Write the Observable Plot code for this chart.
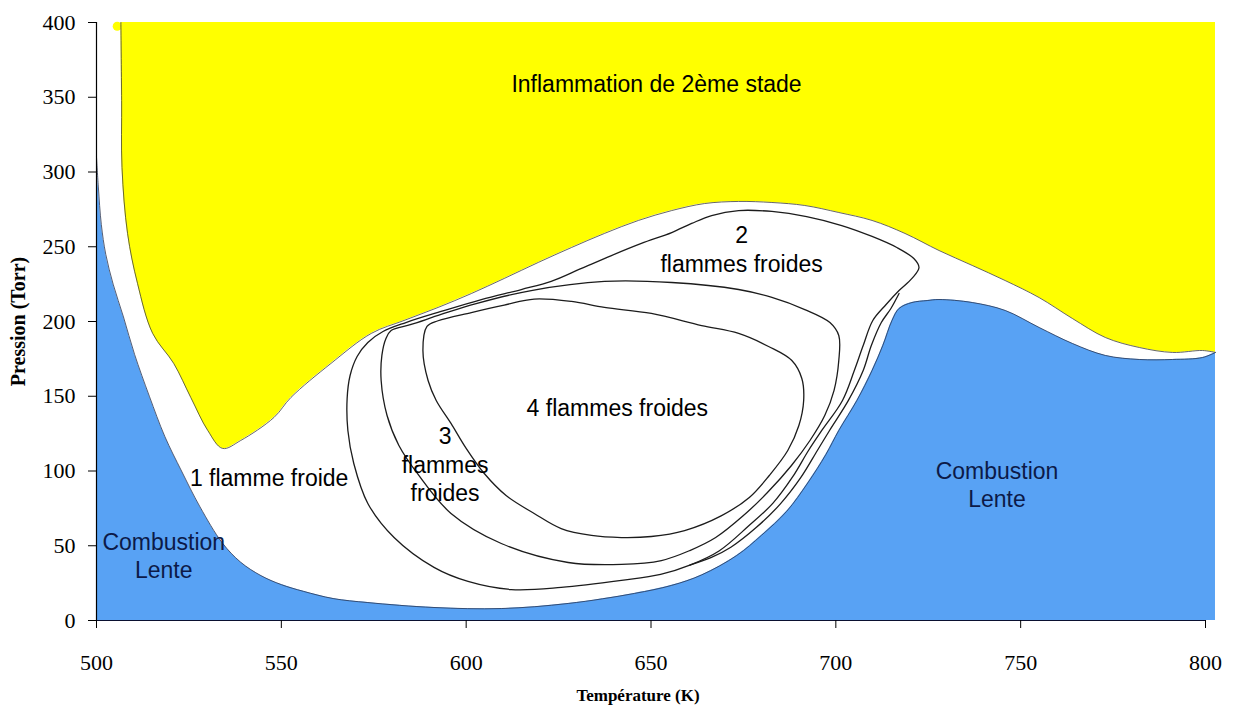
<!DOCTYPE html>
<html>
<head>
<meta charset="utf-8">
<script src="https://cdn.jsdelivr.net/npm/d3@7"></script>
<script src="https://cdn.jsdelivr.net/npm/@observablehq/plot@0.6"></script>
<style>
  html, body { margin: 0; padding: 0; background: #ffffff; }
  svg { display: block; }
</style>
</head>
<body>
<div id="chart"></div>
<script>
// ---- Data (Température K, Pression Torr) ----
// Lower limit of the second-stage ignition region (yellow)
const ignitionBoundary = [
  [506.6,400],[506.8,347.8],[506.9,303.0],[508.4,258.9],[511.1,225.4],[515.2,192.0],[520.9,171.9],
  [525.5,149.2],[530.1,127.1],[534.1,115.1],[539.0,120.4],[548.0,135.8],[552.6,149.2],[563.4,171.9],
  [574.3,192.0],[583.2,200.7],[592.4,209.4],[601.4,218.7],[610.3,228.8],[619.5,239.5],[628.5,249.5],
  [637.4,258.9],[646.6,267.6],[655.6,274.2],[664.5,278.9],[673.7,280.3],[682.7,279.6],[691.6,277.6],
  [700.8,272.9],[709.8,267.6],[718.7,258.9],[727.9,247.5],[736.9,237.5],[745.8,227.4],[755.0,216.0],
  [764.0,202.0],[772.9,189.3],[782.1,182.6],[791.1,179.3],[799.2,180.6],[802.7,179.3]
];
// Upper limit of the slow combustion region (blue)
const slowCombustionBoundary = [
  [500,310],[500.5,290],[501.3,265],[502.5,245],[504.5,225],[507.3,203],[510.3,178],[514.3,150],
  [518.5,123],[523.0,100],[528.0,76],[534.0,52],[539.0,39],[544.5,30],[550.0,24],[556.0,19.5],
  [564.0,14.7],[573.4,12.0],[591.3,8.7],[609.5,8.0],[627.6,11.4],[645.5,18.1],[655.6,23.5],
  [663.7,30.5],[673.2,43.5],[679.9,57.0],[686.7,73.0],[692.4,92.0],[697.3,111.0],[700.8,127.1],
  [705.7,147.2],[709.8,167.2],[712.7,183.9],[715.2,200.7],[717.1,208.7],[720.6,212.7],[724.7,214.0],
  [727.9,214.7],[736.9,212.7],[745.8,207.4],[755.0,196.0],[764.0,185.3],[772.9,177.3],[782.1,174.6],
  [791.1,174.6],[799.2,175.9],[802.7,179.3]
];
// Cold-flame limits
const oneFlameLimit = [
  [567.8,148.5],[568.6,163.9],[570.5,176.6],[573.4,186.0],[577.5,193.3],[583.7,199.3],[593.2,206.7],
  [604.1,214.7],[614.9,221.4],[623.0,226.8],[631.2,235.5],[639.3,244.1],[647.4,252.2],[655.6,259.5],
  [661.0,265.6],[666.4,270.9],[673.7,274.2],[682.7,273.6],[692.1,270.2],[701.6,264.2],[709.8,256.9],
  [716.5,249.5],[721.1,242.1],[722.5,236.1],[720.6,228.8],[717.1,220.7],[713.6,211.4],[710.0,200.7],
  [707.4,183.9],[705.0,167.2],[701.8,147.2],[696.2,127.1],[692.6,113.7],[688.3,96.0],[683.0,78.5],
  [676.3,63.0],[668.4,46.5],[660.5,37.0],[652.6,30.8],[642.0,26.8],[625.7,22.1],[612.2,20.7],
  [600.5,26.1],[591.3,35.5],[580.5,55.5],[573.4,78.3],[569.6,105.0],[568.0,127.1]
];
const twoFlameBranch = [
  [717.1,218.7],[714.9,208.7],[712.3,199.3],[709.6,183.9],[707.4,167.2],[703.4,147.2],[698.3,127.1],
  [695.0,113.7],[690.5,95.5],[685.0,78.0],[678.6,62.5],[671.6,49.0],[666.2,42.0],[660.5,37.0]
];
const threeFlameLimit = [
  [579.7,194.0],[585.1,198.0],[593.2,204.7],[602.7,212.0],[617.6,220.7],[637.4,226.8],[655.6,226.1],
  [673.7,221.4],[682.7,216.1],[691.6,208.0],[698.4,199.3],[700.8,190.6],[700.8,173.9],[699.5,153.8],
  [697.0,137.1],[693.0,120.4],[688.0,103.7],[681.5,85.6],[675.0,70.2],[667.5,55.5],[660.5,46.8],
  [652.8,40.1],[642.0,37.5],[627.6,38.8],[609.5,51.5],[595.9,71.6],[587.0,97.7],[581.8,117.1],
  [578.6,137.1],[577.0,160.5],[577.2,177.3],[578.3,188.6]
];
const fourFlameLimit = [
  [618.4,215.0],[628.5,213.4],[637.4,209.4],[650.1,205.4],[663.7,197.3],[673.7,192.0],[681.8,183.3],
  [688.1,173.9],[690.8,161.9],[691.3,147.2],[690.0,130.4],[687.0,113.7],[682.0,97.0],[676.6,82.3],
  [669.1,70.2],[659.1,60.2],[650.1,56.2],[642.0,55.5],[633.9,56.9],[625.7,61.5],[618.4,71.6],
  [610.8,83.6],[604.9,98.3],[600.0,115.1],[595.9,131.8],[591.9,147.2],[589.7,160.5],[588.3,180.6],
  [589.4,196.7],[592.4,200.5],[601.4,206.0],[610.3,211.0]
];
const yellowSpot = [[505.6,397.5]];

const xTicks = [500, 550, 600, 650, 700, 750, 800];
const yTicks = [0, 50, 100, 150, 200, 250, 300, 350, 400];

const regionLabels = ["Inflammation de 2ème stade", "2\nflammes froides", "4 flammes froides",
                      "3\nflammes\nfroides", "1 flamme froide"];
const regionT = [651.5, 674.5, 640.9, 594.3, 546.7];
const regionP = [359.9, 249.2, 143.1, 105.0, 96.3];

const slowLabels = ["Combustion\nLente", "Combustion\nLente"];
const slowT = [518.2, 743.6];
const slowP = [44.1, 91.6];

const xTitle = "Température (K)";
const yTitle = "Pression (Torr)";

// ---- Build ----
const pts = a => a.map(([T, P]) => ({T, P}));
const lbl = (texts, Ts, Ps) => texts.map((t, i) => ({t, T: Ts[i], P: Ps[i]}));

const sans = "Liberation Sans, Arial, sans-serif";
const serif = "Liberation Serif, Times New Roman, serif";
const ink = "#1c1c1c";

const chart = Plot.plot({
  width: 1233,
  height: 711,
  marginLeft: 96,
  marginRight: 28,
  marginTop: 22,
  marginBottom: 91,
  x: {domain: [500, 800]},
  y: {domain: [0, 400]},
  style: {background: "#ffffff", color: "#000", fontFamily: serif},
  marks: [
    Plot.areaY(pts(ignitionBoundary), {x: "T", y1: "P", y2: 400, fill: "#ffff00", curve: "catmull-rom"}),
    Plot.dot(pts(yellowSpot), {x: "T", y: "P", r: 4.5, fill: "#ffff00"}),
    Plot.areaY(pts(slowCombustionBoundary), {x: "T", y1: 0, y2: "P", fill: "#58a2f4", curve: "catmull-rom"}),
    Plot.line(pts(ignitionBoundary), {x: "T", y: "P", stroke: "#404040", strokeWidth: 0.8, curve: "catmull-rom"}),
    Plot.line(pts(slowCombustionBoundary), {x: "T", y: "P", stroke: "#2a3550", strokeWidth: 0.8, curve: "catmull-rom"}),
    Plot.line(pts(oneFlameLimit), {x: "T", y: "P", stroke: ink, strokeWidth: 1.3, curve: "catmull-rom-closed"}),
    Plot.line(pts(twoFlameBranch), {x: "T", y: "P", stroke: ink, strokeWidth: 1.3, curve: "catmull-rom"}),
    Plot.line(pts(threeFlameLimit), {x: "T", y: "P", stroke: ink, strokeWidth: 1.3, curve: "catmull-rom-closed"}),
    Plot.line(pts(fourFlameLimit), {x: "T", y: "P", stroke: ink, strokeWidth: 1.3, curve: "catmull-rom-closed"}),
    Plot.text(lbl(regionLabels, regionT, regionP), {x: "T", y: "P", text: "t", fill: "#000",
      fontFamily: sans, fontSize: 23, lineHeight: 1.25}),
    Plot.text(lbl(slowLabels, slowT, slowP), {x: "T", y: "P", text: "t", fill: "#0c1a48",
      fontFamily: sans, fontSize: 23, lineHeight: 1.22}),
    Plot.ruleX([500], {stroke: "#000", strokeWidth: 1.2}),
    Plot.ruleY([0], {stroke: "#0a1030", strokeWidth: 1.2}),
    Plot.axisX(xTicks, {tickSize: 8, tickPadding: 26, fontSize: 22, fontFamily: serif, label: null, stroke: "#000"}),
    Plot.axisY(yTicks, {tickSize: 8, tickPadding: 13, fontSize: 22, fontFamily: serif, label: null, stroke: "#000"}),
    Plot.text([xTitle], {text: d => d, frameAnchor: "bottom", dy: 80, dx: -13,
      fontFamily: serif, fontWeight: "bold", fontSize: 17, fill: "#000"}),
    Plot.text([yTitle], {text: d => d, frameAnchor: "left", textAnchor: "middle", dx: -78, rotate: -90,
      fontFamily: serif, fontWeight: "bold", fontSize: 20, fill: "#000"})
  ]
});
document.getElementById("chart").appendChild(chart);
</script>
</body>
</html>
